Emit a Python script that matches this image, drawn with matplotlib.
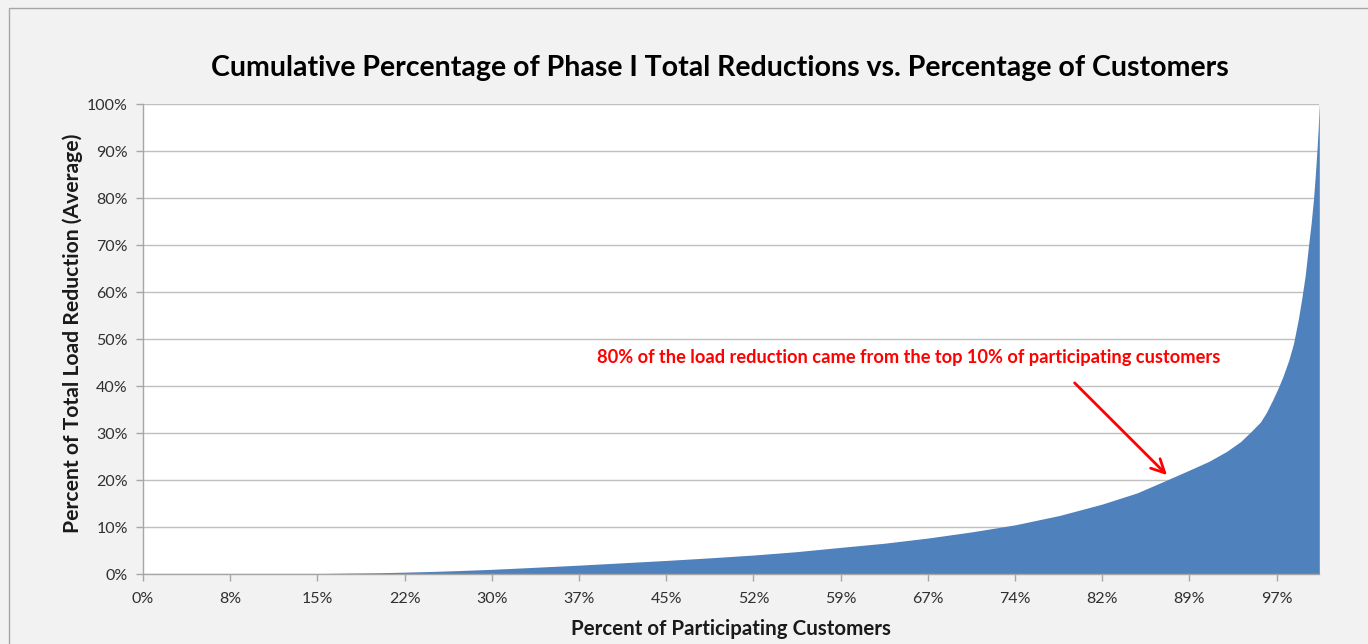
import matplotlib
matplotlib.use("Agg")
import matplotlib.pyplot as plt
from matplotlib.patches import Rectangle

# Cumulative share of total load reduction, customers sorted from smallest to largest contributor
pct_customers = [0.0, 5.0, 7.4, 10.0, 12.5, 14.8, 17.5, 20.0, 22.1, 24.5, 26.9, 29.6,
                 33.0, 37.1, 40.8, 44.5, 48.2, 51.9, 55.5, 59.2, 63.0, 66.7, 70.4, 74.1,
                 77.9, 81.5, 84.5, 87.0, 89.0, 90.6, 92.1, 93.3, 94.3, 95.0, 95.5, 96.0,
                 96.5, 96.9, 97.4, 97.8, 98.2, 98.5, 98.8, 99.07, 99.3, 99.5, 99.65,
                 99.8, 99.9, 100.0]
pct_reduction = [0.0, 0.0, 0.02, 0.05, 0.1, 0.15, 0.25, 0.33, 0.45, 0.6, 0.8, 1.05,
                 1.45, 1.95, 2.45, 2.95, 3.5, 4.1, 4.8, 5.7, 6.6, 7.7, 9.0, 10.5,
                 12.5, 14.9, 17.3, 20.0, 22.2, 24.0, 26.1, 28.2, 30.6, 32.4, 34.4, 36.9,
                 39.6, 42.0, 45.5, 49.0, 54.0, 58.5, 63.5, 69.6, 74.5, 79.6, 84.5,
                 90.2, 94.5, 100.0]

x_tick_labels = ["0%", "8%", "15%", "22%", "30%", "37%", "45%", "52%", "59%",
                 "67%", "74%", "82%", "89%", "97%"]
y_ticks = list(range(0, 101, 10))

title = "Cumulative Percentage of Phase I Total Reductions vs. Percentage of Customers"
x_label = "Percent of Participating Customers"
y_label = "Percent of Total Load Reduction (Average)"
note = "80% of the load reduction came from the top 10% of participating customers"

FONT = ["Lato", "DejaVu Sans"]
plt.rcParams["font.family"] = FONT

W, H = 1368, 644
fig = plt.figure(figsize=(W / 100, H / 100), dpi=100, facecolor="#F2F2F2")

# chart-area frame
fig.patches.append(Rectangle((9 / W, -0.1), 1.2, 1 - 8 / H + 0.1, transform=fig.transFigure,
                             facecolor="none", edgecolor="#A6A6A6", linewidth=1.0))

ax = fig.add_axes([143 / W, (H - 574.3) / H, (1319.3 - 143) / W, (574.3 - 104) / H])
ax.set_facecolor("white")

ax.fill_between(pct_customers, pct_reduction, 0, color="#4F81BD", linewidth=0, zorder=2)

ax.set_xlim(0, 100)
ax.set_ylim(0, 100)

step = 100 / 13.49
ax.set_xticks([i * step for i in range(len(x_tick_labels))])
ax.set_xticklabels(x_tick_labels)
ax.set_yticks(y_ticks)
ax.set_yticklabels([f"{v}%" for v in y_ticks])

ax.grid(axis="y", color="#BFBFBF", linewidth=1.0, zorder=1)
ax.set_axisbelow(True)

for side in ("top", "right"):
    ax.spines[side].set_visible(False)
for side in ("left", "bottom"):
    ax.spines[side].set_color("#A6A6A6")
    ax.spines[side].set_linewidth(1.0)
    ax.spines[side].set_zorder(3)

ax.tick_params(axis="both", colors="#A6A6A6", labelcolor="#303030", labelsize=11.5,
               length=5, width=1)
ax.tick_params(axis="x", pad=8)
ax.tick_params(axis="y", pad=6)

ax.set_xlabel(x_label, fontsize=14.8, fontweight="bold", color="#1a1a1a", labelpad=9)
fig.text(73 / W, 1 - 333 / H, y_label, rotation=90, ha="center", va="center",
         fontsize=15.2, fontweight="bold", color="#1a1a1a")

fig.text(720 / W, 1 - 68 / H, title, ha="center", va="center",
         fontsize=20.5, fontweight="bold", color="#000000")

ax.text(65.1, 46.0, note, ha="center", va="center", fontsize=13.15,
        fontweight="bold", color="#FF0000", zorder=5)
ax.annotate("", xy=(87.05, 21.1), xytext=(79.2, 40.7),
            arrowprops=dict(arrowstyle="->", color="#FF0000", lw=2.0,
                            mutation_scale=24, shrinkA=0, shrinkB=0),
            zorder=5)

fig.savefig("out.png", dpi=100, facecolor=fig.get_facecolor())
